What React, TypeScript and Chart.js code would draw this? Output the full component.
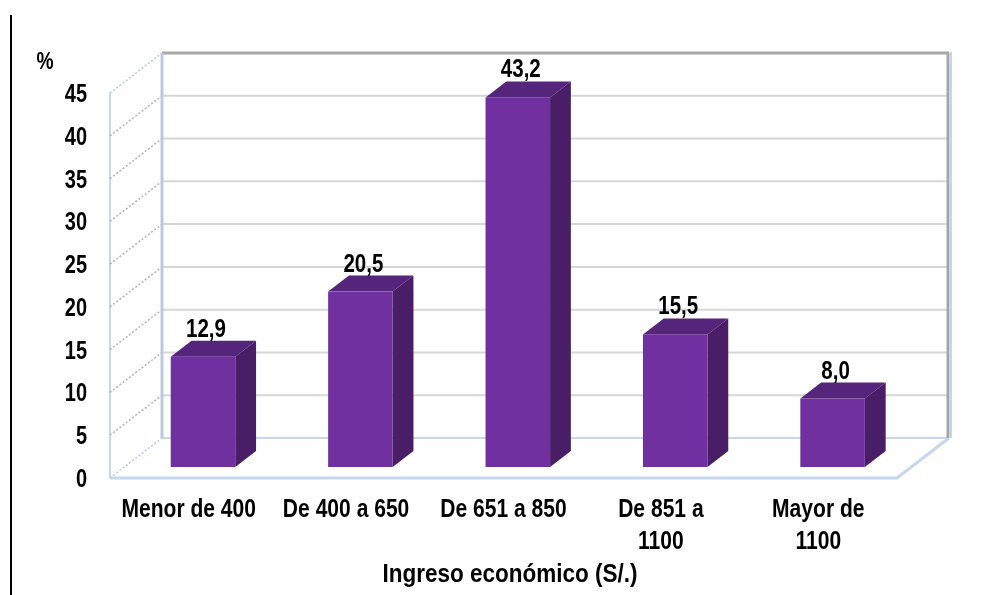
import React, { useEffect, useRef } from "react";
import { Chart, registerables } from "chart.js";

Chart.register(...registerables);

// ---- data ----
const categories: (string | string[])[] = [
  "Menor de 400",
  "De 400 a 650",
  "De 651 a 850",
  ["De 851 a", "1100"],
  ["Mayor de", "1100"],
];
const values = [12.9, 20.5, 43.2, 15.5, 8.0];
const valueLabels = ["12,9", "20,5", "43,2", "15,5", "8,0"];
const yTickValues = [0, 5, 10, 15, 20, 25, 30, 35, 40, 45];
const yUnitLabel = "%";
const xAxisTitle = "Ingreso económico (S/.)";

// ---- style ----
const FONT = "'Liberation Sans', Arial, sans-serif";
const W = 993;
const H = 595;
const BACK_DX = 52;
const BACK_DY = -40;
const FRONT_FRAC = 11 / 40;
const DEPTH_FRAC = 16 / 40;
const FACE = "#7030A0";
const TOP = "#55247B";
const SIDE = "#4A1E67";

function narrowText(
  ctx: CanvasRenderingContext2D,
  text: string,
  x: number,
  y: number,
  size: number,
  k: number,
  align: CanvasTextAlign
) {
  ctx.save();
  ctx.translate(x, y);
  ctx.scale(k, 1);
  ctx.font = `bold ${size}px ${FONT}`;
  ctx.fillStyle = "#000";
  ctx.textAlign = align;
  ctx.textBaseline = "alphabetic";
  ctx.fillText(text, 0, 0);
  ctx.restore();
}

const threeD = {
  id: "threeD",
  beforeDraw(chart: any) {
    const ctx = chart.ctx as CanvasRenderingContext2D;
    const { left, right } = chart.chartArea;
    const ys = chart.scales.y;
    ctx.save();
    ctx.fillStyle = "#fff";
    ctx.fillRect(0, 0, chart.width, chart.height);
    // document margin line
    ctx.fillStyle = "#000";
    ctx.fillRect(10, 15, 2, chart.height - 15);

    const y0 = ys.getPixelForValue(0);
    const yMax = ys.getPixelForValue(45);

    // floor
    ctx.strokeStyle = "#c6d6ec";
    ctx.lineWidth = 3;
    ctx.beginPath();
    ctx.moveTo(left, y0);
    ctx.lineTo(right, y0);
    ctx.lineTo(right + BACK_DX, y0 + BACK_DY);
    ctx.stroke();
    ctx.lineWidth = 2;
    ctx.beginPath();
    ctx.moveTo(left + BACK_DX, y0 + BACK_DY);
    ctx.lineTo(right + BACK_DX, y0 + BACK_DY);
    ctx.stroke();

    // left wall: front edge
    ctx.strokeStyle = "#c6d6ec";
    ctx.lineWidth = 2;
    ctx.beginPath();
    ctx.moveTo(left, y0);
    ctx.lineTo(left, yMax);
    ctx.stroke();

    // diagonal dotted lines on left wall
    ctx.setLineDash([2, 2]);
    yTickValues.forEach((v) => {
      const py = ys.getPixelForValue(v);
      ctx.strokeStyle = v === 45 || v === 0 ? "#b9c9e2" : "#b0b0b0";
      ctx.lineWidth = 1.5;
      ctx.beginPath();
      ctx.moveTo(left, py);
      ctx.lineTo(left + BACK_DX, py + BACK_DY);
      ctx.stroke();
    });
    ctx.setLineDash([]);

    // back wall gridlines
    yTickValues.forEach((v) => {
      if (v === 0) return;
      const py = ys.getPixelForValue(v) + BACK_DY;
      ctx.strokeStyle = v === 45 ? "#a6a6a6" : "#d6d6d6";
      ctx.lineWidth = v === 45 ? 3 : 2;
      ctx.beginPath();
      ctx.moveTo(left + BACK_DX, py);
      ctx.lineTo(right + BACK_DX, py);
      ctx.stroke();
    });
    // back wall left edge
    ctx.strokeStyle = "#b9c9e2";
    ctx.lineWidth = 3;
    ctx.beginPath();
    ctx.moveTo(left + BACK_DX, y0 + BACK_DY);
    ctx.lineTo(left + BACK_DX, yMax + BACK_DY);
    ctx.stroke();
    // back wall right edge
    ctx.strokeStyle = "#a6a6a6";
    ctx.lineWidth = 3;
    ctx.beginPath();
    ctx.moveTo(right + BACK_DX - 1, y0 + BACK_DY);
    ctx.lineTo(right + BACK_DX - 1, yMax + BACK_DY);
    ctx.stroke();
    ctx.strokeStyle = "#c6d6ec";
    ctx.lineWidth = 2;
    ctx.beginPath();
    ctx.moveTo(right + BACK_DX + 2, y0 + BACK_DY);
    ctx.lineTo(right + BACK_DX + 2, yMax + BACK_DY - 1);
    ctx.stroke();
    ctx.restore();

    // y tick labels (front plane)
    ys.ticks.forEach((t: any) => {
      const py = ys.getPixelForValue(t.value);
      narrowText(ctx, String(t.value), 87, py + 9, 25, 0.8, "right");
    });
    // x category labels (front plane)
    const xs = chart.scales.x;
    (chart.data.labels as (string | string[])[]).forEach((lab, i) => {
      const px = xs.getPixelForValue(i);
      const lines = Array.isArray(lab) ? lab : [lab];
      lines.forEach((ln, j) => {
        narrowText(ctx, ln, px, 517 + j * 32, 26, 0.81, "center");
      });
    });
    // unit label
    narrowText(ctx, yUnitLabel, 45, 69, 24, 0.8, "center");
    // axis title
    narrowText(ctx, xAxisTitle, 510, 582, 25, 0.9, "center");
  },
  afterDatasetsDraw(chart: any) {
    const ctx = chart.ctx as CanvasRenderingContext2D;
    const meta = chart.getDatasetMeta(0);
    const fdx = BACK_DX * FRONT_FRAC;
    const fdy = BACK_DY * FRONT_FRAC;
    const ddx = BACK_DX * DEPTH_FRAC;
    const ddy = BACK_DY * DEPTH_FRAC;
    ctx.save();
    meta.data.forEach((el: any, i: number) => {
      const p = el.getProps(["x", "y", "base", "width"], true);
      const x0 = p.x - p.width / 2 + fdx;
      const x1 = p.x + p.width / 2 + fdx;
      const yT = p.y + fdy;
      const yB = p.base + fdy;
      // side
      ctx.fillStyle = SIDE;
      ctx.beginPath();
      ctx.moveTo(x1, yT);
      ctx.lineTo(x1 + ddx, yT + ddy);
      ctx.lineTo(x1 + ddx, yB + ddy);
      ctx.lineTo(x1, yB);
      ctx.closePath();
      ctx.fill();
      // top
      ctx.fillStyle = TOP;
      ctx.beginPath();
      ctx.moveTo(x0, yT);
      ctx.lineTo(x1, yT);
      ctx.lineTo(x1 + ddx, yT + ddy);
      ctx.lineTo(x0 + ddx, yT + ddy);
      ctx.closePath();
      ctx.fill();
      // front
      ctx.fillStyle = FACE;
      ctx.fillRect(x0, yT, x1 - x0, yB - yT);
      // value label
      narrowText(ctx, valueLabels[i], (x0 + x1) / 2 + 3, yT - 20, 25, 0.82, "center");
    });
    ctx.restore();
  },
};

export default function App() {
  const ref = useRef<HTMLCanvasElement | null>(null);
  useEffect(() => {
    if (!ref.current) return;
    const chart = new Chart(ref.current, {
      type: "bar",
      data: {
        labels: categories,
        datasets: [
          {
            data: values,
            backgroundColor: "rgba(0,0,0,0)",
            borderWidth: 0,
            categoryPercentage: 1,
            barPercentage: 0.41,
          },
        ],
      },
      options: {
        responsive: false,
        animation: false,
        devicePixelRatio: 1,
        layout: { padding: { left: 0, top: 93, right: 96, bottom: 0 } },
        plugins: { legend: { display: false }, tooltip: { enabled: false } },
        scales: {
          x: {
            grid: { display: false, drawTicks: false },
            border: { display: false },
            ticks: { display: false, autoSkip: false },
            afterFit: (s: any) => {
              s.height = H - 478;
            },
          },
          y: {
            min: 0,
            max: 45,
            grid: { display: false, drawTicks: false },
            border: { display: false },
            ticks: { display: false, stepSize: 5 },
            afterFit: (s: any) => {
              s.width = 110;
            },
          },
        },
      },
      plugins: [threeD],
    });
    return () => chart.destroy();
  }, []);
  return (
    <div style={{ position: "fixed", left: 0, top: 0, width: W, height: H, background: "#fff" }}>
      <canvas ref={ref} width={W} height={H} style={{ display: "block" }} />
    </div>
  );
}
